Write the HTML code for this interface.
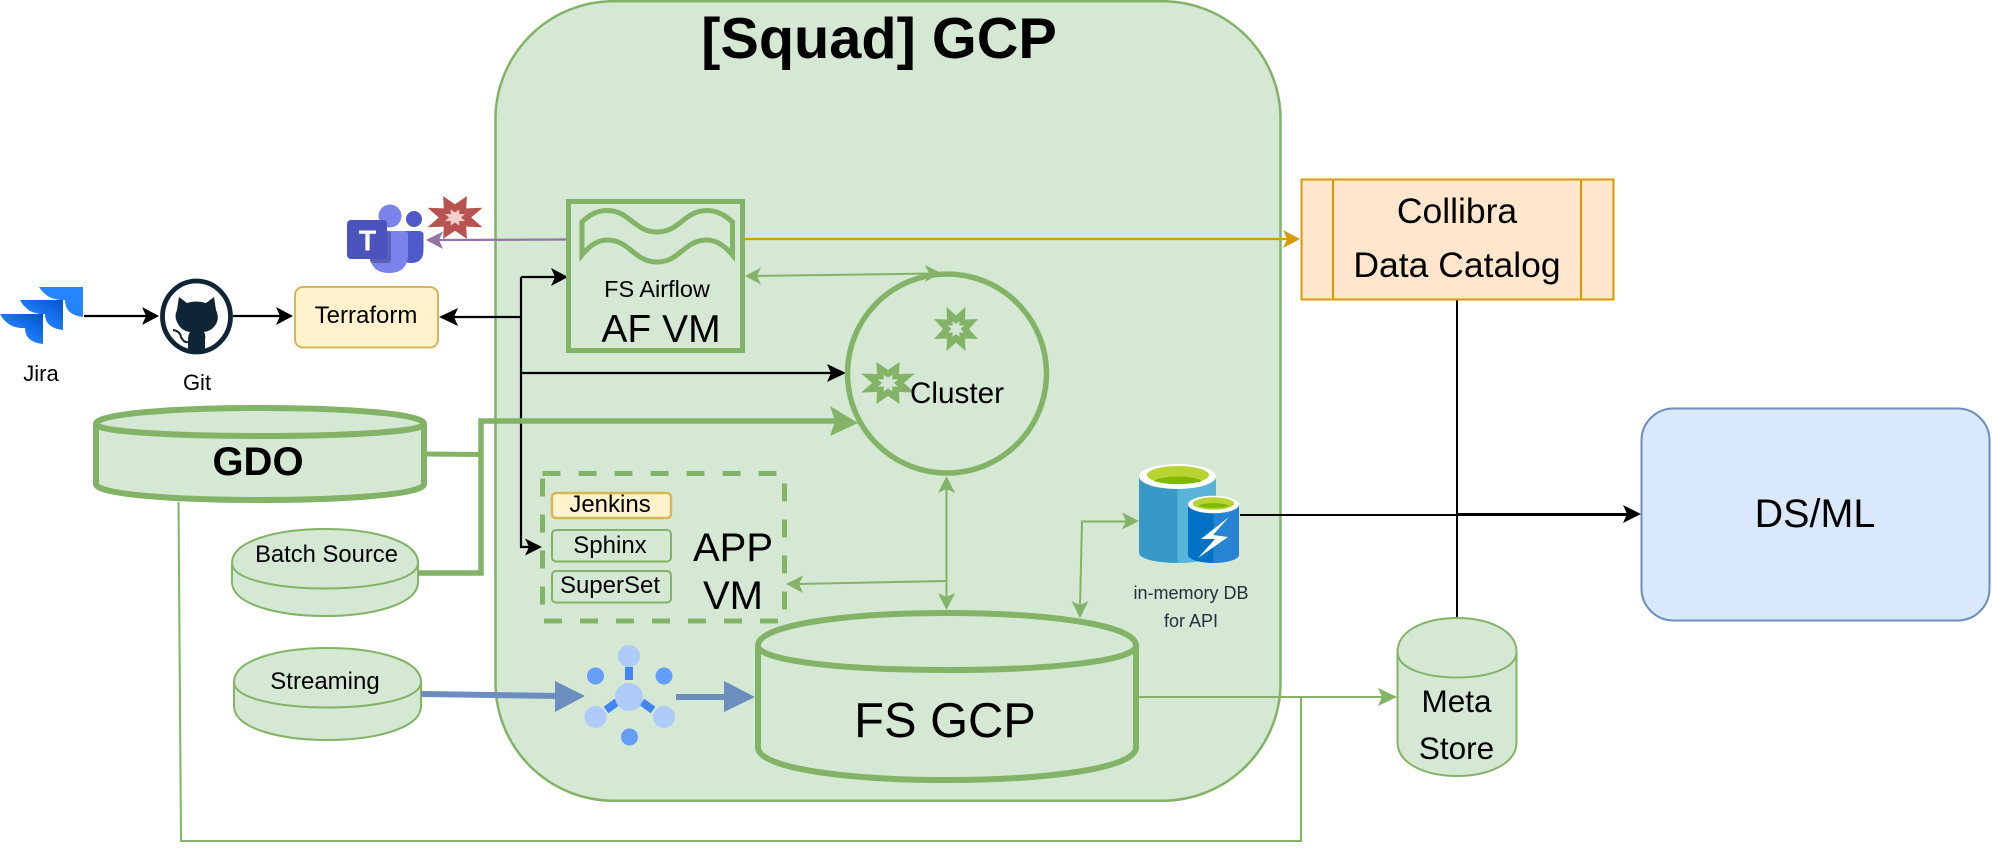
<!DOCTYPE html>
<html><head><meta charset="utf-8"><style>html,body{margin:0;padding:0;background:#fff}svg{display:block}text{font-family:"Liberation Sans",Arial,sans-serif;fill:#000;text-anchor:middle}</style></head><body>
<svg width="1992" height="858" viewBox="0 0 1992 858" xmlns="http://www.w3.org/2000/svg">
<defs>
<linearGradient id="jg" x1="1" y1="0" x2="0.35" y2="0.7"><stop offset="0" stop-color="#0052cc"/><stop offset="1" stop-color="#2684ff"/></linearGradient>
<polygon id="star" points="0,-13 9.5,-21 9,-9 22,-9.5 13,0 22,9.5 9,9 9.5,21 0,13 -9.5,21 -9,9 -22,9.5 -13,0 -22,-9.5 -9,-9 -9.5,-21"/>
</defs>
<rect x="495.5" y="1.2" width="785" height="799.5" rx="118" ry="118" fill="#d5e8d4" stroke="#82b366" stroke-width="2.5"/>
<text x="879" y="58" font-size="57.7" font-weight="bold">[Squad] GCP</text>

<!-- Jira -->
<path d="M39 287H83V317Q65 315 65 300Q48 301 39 287Z" fill="#2684ff"/>
<path d="M20 300H63V330Q45 328 45 314Q28 315 20 300Z" fill="url(#jg)"/>
<path d="M0 314H43V344Q25 342 25 328Q8 329 0 314Z" fill="url(#jg)"/>
<text x="41" y="381" font-size="22">Jira</text>
<!-- Git -->
<ellipse cx="196.5" cy="316.5" rx="34" ry="35.5" fill="#fff" stroke="#0f2536" stroke-width="4.8"/>
<path d="M179 297L187 303Q196 300 206 303L214 297L216 310Q219 316 217 322Q213 331 204 332Q206 335 205 340V351H188V340Q188 335 190 332Q181 331 177 322Q174 316 177 310Z" fill="#0f2536"/>
<path d="M173 330Q180 331 181 337Q184 343 188 342" fill="none" stroke="#0f2536" stroke-width="2"/>
<text x="197" y="390" font-size="22">Git</text>
<!-- Teams -->
<circle cx="390" cy="216" r="11.5" fill="#7b83eb"/><circle cx="414" cy="219" r="8" fill="#5059c9"/>
<path d="M405 231H419Q423.5 231 423.5 235V250Q423.5 263 411 263Q405 263 400 259Z" fill="#5059c9"/>
<path d="M374 231H404Q408 231 408 235V254Q408 273 389 273Q370 273 370 254V235Q370 231 374 231Z" fill="#7b83eb"/>
<rect x="370" y="231" width="21" height="32" rx="3" fill="#5b5fb8"/>
<rect x="347" y="220" width="40" height="39" rx="4" fill="#4b53bc"/>
<text x="367.5" y="250.5" font-size="29" font-weight="bold" style="fill:#fff">T</text>
<use href="#star" transform="translate(455 217.5) scale(1.25 1.02)" fill="#b85450"/>
<use href="#star" transform="translate(455 217.5) scale(.46 .38)" fill="#f8cecc"/>

<!-- Terraform -->
<rect x="295" y="287" width="143" height="60.5" rx="8" fill="#fff2cc" stroke="#d6b656" stroke-width="2"/>
<text x="366" y="323" font-size="24">Terraform</text>

<!-- black connectors -->
<g stroke="#000" stroke-width="2.2" fill="none">
<path d="M84 316H150"/><path d="M233 316H284"/>
<path d="M448 317H521"/><path d="M521 277H558"/><path d="M521 277V547H533"/><path d="M521 373H835"/>
</g>
<g fill="#000">
<polygon points="159,316 142,307 146,316 142,325"/>
<polygon points="293,316 276,307 280,316 276,325"/>
<polygon points="439,317 458,308 454,317 458,326"/>
<polygon points="568,277 551,268 555,277 551,286"/>
<polygon points="846,373 827,364 831,373 827,382"/>
<polygon points="542,547 525,538.5 529,547 525,555.5"/>
</g>

<!-- purple & orange -->
<path d="M566 239.5L436 240" stroke="#9673a6" stroke-width="2.2" fill="none"/>
<polygon points="426,240 443,231.5 439,240 443,249" fill="#9673a6"/>
<path d="M745 239H1290" stroke="#d79b00" stroke-width="2.2" fill="none"/>
<polygon points="1300,239 1283,230 1287,239 1283,248" fill="#d79b00"/>

<!-- AF VM -->
<rect x="568.5" y="201.5" width="174" height="149" fill="#d5e8d4" stroke="#82b366" stroke-width="5"/>
<path d="M582 222C590 214 598 210.5 607 210.5C630 210.5 634 232 657 232C680 232 684 210.5 707 210.5C716 210.5 724 214 732.5 222V255C724 245 716 240 707 240C684 240 680 262 657 262C634 262 630 240 607 240C598 240 590 245 582 255Z" fill="none" stroke="#82b366" stroke-width="5"/>
<text x="657" y="297" font-size="23.5">FS Airflow</text>
<text x="661" y="342" font-size="39">AF VM</text>

<!-- Cluster -->
<circle cx="947" cy="373.5" r="99.5" fill="none" stroke="#82b366" stroke-width="5.5"/>
<use href="#star" transform="translate(956 329) scale(1 1.05)" fill="#82b366"/>
<use href="#star" transform="translate(956 329) scale(.37 .38)" fill="#d5e8d4"/>
<use href="#star" transform="translate(888 383) scale(1.22 1)" fill="#82b366"/>
<use href="#star" transform="translate(888 383) scale(.46 .4)" fill="#d5e8d4"/>
<text x="957" y="403" font-size="29.7">Cluster</text>

<!-- green thin arrows -->
<g stroke="#82b366" stroke-width="2" fill="none">
<path d="M755 276L932 273.5"/>
<path d="M946.5 486V600"/><path d="M946.5 581L796 584"/>
<path d="M1080 608L1082 521.5H1130"/>
<path d="M1139 697H1388"/>
<path d="M178.5 502L181 841H1301V697"/>
</g>
<g fill="#82b366">
<polygon points="745,276 761,267.5 757,276 761,284.5"/>
<polygon points="941,273 925,265 929,273 925,282"/>
<polygon points="946.5,476 938,493 946.5,489 955,493"/>
<polygon points="946.5,610 938,593 946.5,597 955,593"/>
<polygon points="786,584 803,575.5 799,584 803,593"/>
<polygon points="1080,618 1071.5,601 1080,605 1088.5,601"/>
<polygon points="1139,521 1122,512.5 1126,521 1122,529.5"/>
<polygon points="1397,697 1378,688 1382,697 1378,706"/>
</g>

<!-- thick green -->
<path d="M426 454L481 454.5" stroke="#82b366" stroke-width="5" fill="none"/>
<path d="M419 573H481V421H838" stroke="#82b366" stroke-width="5.5" fill="none"/>
<polygon points="858,423 830,406 835,421 830,436" fill="#82b366"/>

<!-- GDO -->
<path d="M96 424C96 402.67 424 402.67 424 424V484C424 505.33 96 505.33 96 484Z" fill="#d5e8d4" stroke="#82b366" stroke-width="6"/>
<path d="M96 424C96 440 424 440 424 424" fill="none" stroke="#82b366" stroke-width="6"/>
<text x="258" y="475" font-size="40" font-weight="bold">GDO</text>

<!-- Batch -->
<path d="M232 563C232 517.67 418 517.67 418 563V582C418 627.33 232 627.33 232 582Z" fill="#d5e8d4" stroke="#82b366" stroke-width="2"/>
<path d="M232 563C232 597 418 597 418 563" fill="none" stroke="#82b366" stroke-width="2"/>
<text x="326.5" y="562" font-size="23.8">Batch Source</text>
<!-- Streaming -->
<path d="M234 682C234 636.67 421 636.67 421 682V706C421 751.33 234 751.33 234 706Z" fill="#d5e8d4" stroke="#82b366" stroke-width="2"/>
<path d="M234 682C234 716 421 716 421 682" fill="none" stroke="#82b366" stroke-width="2"/>
<text x="325" y="689" font-size="24">Streaming</text>

<!-- Blue arrows -->
<path d="M421 694L560 696" stroke="#6c8ebf" stroke-width="6" fill="none"/>
<polygon points="585,696 555,681 555,712" fill="#6c8ebf"/>
<path d="M676 697H730" stroke="#6c8ebf" stroke-width="6" fill="none"/>
<polygon points="755,697 724,681 724,712" fill="#6c8ebf"/>

<!-- Pub/Sub -->
<g>
<path d="M629 667V680" stroke="#4285f4" stroke-width="8"/>
<path d="M606 710L617 702" stroke="#4285f4" stroke-width="8"/>
<path d="M653 710L642 702" stroke="#4285f4" stroke-width="8"/>
<circle cx="629" cy="697" r="14" fill="#aecbfa"/>
<circle cx="629" cy="656" r="11" fill="#aecbfa"/>
<circle cx="595.5" cy="717" r="11" fill="#aecbfa"/>
<circle cx="664" cy="717" r="11" fill="#aecbfa"/>
<circle cx="595.5" cy="676" r="8.5" fill="#669df6"/>
<circle cx="664" cy="676" r="8.5" fill="#669df6"/>
<circle cx="629.5" cy="737" r="8.5" fill="#669df6"/>
</g>

<!-- APP VM -->
<rect x="542.5" y="473.5" width="242" height="147.5" fill="none" stroke="#82b366" stroke-width="5" stroke-dasharray="18 18"/>
<rect x="552" y="493" width="119" height="25" rx="4" fill="#fff2cc" stroke="#d6b656" stroke-width="2.5"/>
<rect x="552" y="530" width="119" height="31.5" rx="4" fill="#d5e8d4" stroke="#82b366" stroke-width="2"/>
<rect x="552" y="571" width="119" height="31.5" rx="4" fill="#d5e8d4" stroke="#82b366" stroke-width="2"/>
<text x="610" y="512" font-size="24">Jenkins</text>
<text x="610" y="553" font-size="24">Sphinx</text>
<text x="610" y="593" font-size="24">SuperSet</text>
<text x="733" y="561" font-size="40">APP</text>
<text x="733" y="609" font-size="40">VM</text>

<!-- FS GCP -->
<path d="M758 645.6C758 602.1 1136 602.1 1136 645.6V747.4C1136 790.9 758 790.9 758 747.4Z" fill="#d5e8d4" stroke="#82b366" stroke-width="6"/>
<path d="M758 645.6C758 678.2 1136 678.2 1136 645.6" fill="none" stroke="#82b366" stroke-width="6"/>
<text x="945" y="737" font-size="48.8">FS GCP</text>

<!-- in-memory DB icon -->
<path d="M1139 476V553A38.5 10 0 0 0 1177.5 563V476Z" fill="#3999c6"/>
<path d="M1216 476V553A38.5 10 0 0 1 1177.5 563V476Z" fill="#59b4d9"/>
<ellipse cx="1177.5" cy="476.5" rx="38.5" ry="12.5" fill="#fff"/>
<ellipse cx="1178" cy="475" rx="31" ry="9" fill="#b8d432"/>
<path d="M1154 481A25 6 0 0 1 1202 481A31 9 0 0 1 1154 481Z" fill="#7fba00"/>
<path d="M1188 504V555A25.5 8 0 0 0 1213.5 563V504Z" fill="#0072c6"/>
<path d="M1239 504V555A25.5 8 0 0 1 1213.5 563V504Z" fill="#2684d2"/>
<ellipse cx="1213.5" cy="504.5" rx="25.5" ry="8.8" fill="#fff"/>
<ellipse cx="1213.5" cy="503.5" rx="20.7" ry="6.2" fill="#b8d432"/>
<path d="M1198 506A16 4 0 0 1 1229 506A21 6 0 0 1 1198 506Z" fill="#7fba00"/>
<polygon points="1229,517 1201,539 1215,539 1198,558 1228,537 1213,535" fill="#fff"/>
<text x="1191" y="599" font-size="18" style="fill:#232f3e">in-memory DB</text>
<text x="1191" y="627" font-size="18" style="fill:#232f3e">for API</text>

<!-- Collibra -->
<path d="M1457 300V618" stroke="#000" stroke-width="2" fill="none"/>
<path d="M1240 515H1457" stroke="#000" stroke-width="2" fill="none"/>
<path d="M1457 514.5H1630" stroke="#000" stroke-width="3" fill="none"/>
<polygon points="1641,514 1623,505 1627,514 1623,523" fill="#000"/>
<rect x="1301.5" y="179.5" width="312" height="120" fill="#ffe6cc" stroke="#d79b00" stroke-width="2"/>
<path d="M1333 180V299M1581 180V299" stroke="#d79b00" stroke-width="2" fill="none"/>
<text x="1457" y="223" font-size="35.5">Collibra</text>
<text x="1457" y="277" font-size="35.5">Data Catalog</text>

<!-- DS/ML -->
<rect x="1641.5" y="408.500" width="348" height="212" rx="32" fill="#dae8fc" stroke="#6c8ebf" stroke-width="2"/>
<text x="1815" y="527" font-size="39.5">DS/ML</text>

<!-- Meta -->
<path d="M1397.5 652C1397.5 606.67 1516.5 606.67 1516.5 652V742C1516.5 787.33 1397.5 787.33 1397.5 742Z" fill="#d5e8d4" stroke="#82b366" stroke-width="2"/>
<path d="M1397.5 652C1397.5 686 1516.5 686 1516.5 652" fill="none" stroke="#82b366" stroke-width="2"/>
<text x="1456.5" y="712" font-size="31.5">Meta</text>
<text x="1456.5" y="759" font-size="31.5">Store</text>
</svg>
</body></html>
